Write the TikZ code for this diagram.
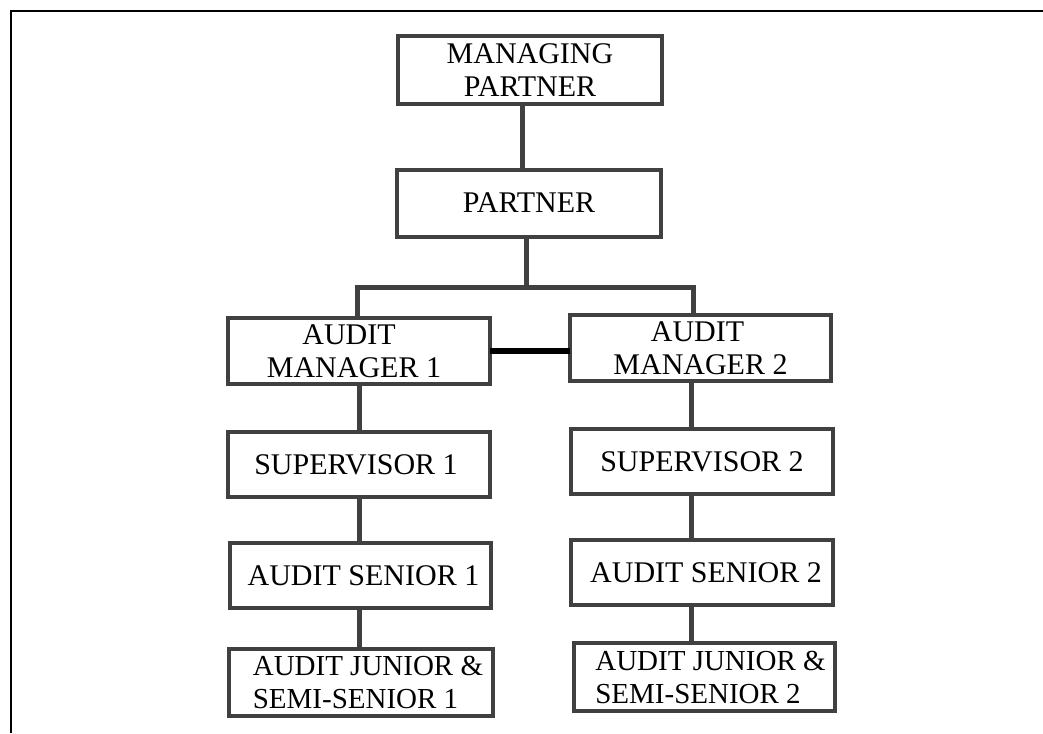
\documentclass[tikz,border=0pt]{standalone}
\usepackage{fontspec}
\setmainfont{Liberation Serif}
\usetikzlibrary{calc}
\definecolor{boxgray}{HTML}{404040}
\tikzset{
  box/.style={draw=boxgray, line width=4pt, rectangle, inner sep=0pt, outer sep=0pt,
    align=center, font=\fontsize{30}{33}\selectfont},
  jbox/.style={box, align=left, font=\fontsize{29}{33}\selectfont},
  conn/.style={draw=boxgray, line width=5pt},
  link/.style={draw=black, line width=6pt},
  frame/.style={draw=black, line width=2pt}
}
\begin{document}
\begin{tikzpicture}[x=1pt,y=-1pt]
\useasboundingbox (0,0) rectangle (1043,733);
\draw[frame] (11,733) -- (11,11) -- (1043,11);

\node[box, minimum width=264pt, minimum height=68pt] (mp) at (530,70) {MANAGING\\PARTNER};
\node[box, minimum width=264pt, minimum height=67pt] (p) at (529,203) {PARTNER};
\node[box, minimum width=262pt, minimum height=66pt] (am1) at (359,351) {AUDIT\kern20pt\\MANAGER 1\kern10pt};
\node[box, minimum width=261pt, minimum height=66pt] (am2) at (700.5,348) {AUDIT\kern6pt\\MANAGER 2};
\node[box, minimum width=262pt, minimum height=65pt] (s1) at (359,464.5) {SUPERVISOR 1\kern6pt};
\node[box, minimum width=262pt, minimum height=65pt] (s2) at (702,461.5) {SUPERVISOR 2};
\node[box, minimum width=261pt, minimum height=65pt] (as1) at (360.5,575.5) {\kern6pt AUDIT SENIOR 1};
\node[box, minimum width=262pt, minimum height=65pt] (as2) at (702,572.5) {\kern8pt AUDIT SENIOR 2};
\node[jbox, minimum width=264pt, minimum height=67pt] (aj1) at (361,682.5) {\kern14pt AUDIT JUNIOR \&\\\kern14pt SEMI-SENIOR 1};
\node[jbox, minimum width=261pt, minimum height=68pt] (aj2) at (704.5,677) {\kern12pt AUDIT JUNIOR \&\\\kern12pt SEMI-SENIOR 2};

\coordinate (xa) at (522,0);
\coordinate (xb) at (526,0);
\coordinate (bus) at (526,287);
\coordinate (busl) at (357,287);
\coordinate (busr) at (693,287);
\coordinate (xl) at (359,0);
\coordinate (xr) at (691,0);

\draw[conn] (mp.south -| xa) -- (p.north -| xa);
\draw[conn] (p.south -| xb) -- (bus);
\draw[conn] (busl |- am1.north) -- (busl) -- (busr) -- (busr |- am2.north);
\draw[link] (am1.east) -- (am1.east -| am2.west);
\draw[conn] (am1.south -| xl) -- (s1.north -| xl);
\draw[conn] (s1.south -| xl) -- (as1.north -| xl);
\draw[conn] (as1.south -| xl) -- (aj1.north -| xl);
\draw[conn] (am2.south -| xr) -- (s2.north -| xr);
\draw[conn] (s2.south -| xr) -- (as2.north -| xr);
\draw[conn] (as2.south -| xr) -- (aj2.north -| xr);
\end{tikzpicture}
\end{document}
